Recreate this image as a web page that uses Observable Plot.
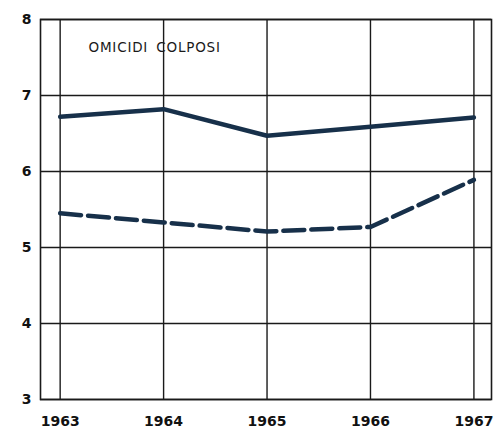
<!DOCTYPE html>
<html>
<head>
<meta charset="utf-8">
<script src="https://cdn.jsdelivr.net/npm/d3@7"></script>
<script src="https://cdn.jsdelivr.net/npm/@observablehq/plot@0.6"></script>
<style>
  html, body { margin: 0; padding: 0; background: #ffffff; }
  #chart svg { display: block; }
  .title-mark text { letter-spacing: 0.8px; word-spacing: 3px; }
</style>
</head>
<body>
<div id="chart"></div>
<script>
const title = "OMICIDI COLPOSI";
const years = [1963, 1964, 1965, 1966, 1967];
const seriesSolid = [6.72, 6.82, 6.47, 6.59, 6.71];
const seriesDashed = [5.45, 5.33, 5.21, 5.27, 5.89];
const yTicks = [3, 4, 5, 6, 7, 8];

const solid = years.map((y, i) => ({year: y, value: seriesSolid[i]}));
const dashed = years.map((y, i) => ({year: y, value: seriesDashed[i]}));

const chart = Plot.plot({
  width: 497,
  height: 433,
  marginLeft: 40,
  marginRight: 6,
  marginTop: 19,
  marginBottom: 34,
  style: {background: "#ffffff", fontFamily: "DejaVu Sans", fontSize: "14px", color: "#111"},
  x: {domain: [1962.81, 1967.17], ticks: years, tickFormat: d3.format("d"), tickSize: 0, tickPadding: 17, label: null},
  y: {domain: [3, 8], ticks: yTicks, tickFormat: d3.format("d"), tickSize: 0, tickPadding: 9, label: null},
  marks: [
    Plot.ruleY(yTicks, {stroke: "#1a1a1a", strokeWidth: 1.4}),
    Plot.ruleX(years, {stroke: "#1a1a1a", strokeWidth: 1.4}),
    Plot.frame({stroke: "#1a1a1a", strokeWidth: 1.6}),
    Plot.text([title], {frameAnchor: "top-left", dx: 48, dy: 23, fontSize: 13.5, fill: "#1a1a1a", className: "title-mark"}),
    Plot.line(solid, {x: "year", y: "value", stroke: "#17304a", strokeWidth: 4.5, strokeLinejoin: "round"}),
    Plot.line(dashed, {x: "year", y: "value", stroke: "#17304a", strokeWidth: 4.5, strokeDasharray: "21,7"})
  ]
});
chart.querySelectorAll("[aria-label='x-axis tick label'], [aria-label='y-axis tick label']").forEach(g => g.setAttribute("font-weight", "bold"));
document.getElementById("chart").appendChild(chart);
</script>
</body>
</html>
